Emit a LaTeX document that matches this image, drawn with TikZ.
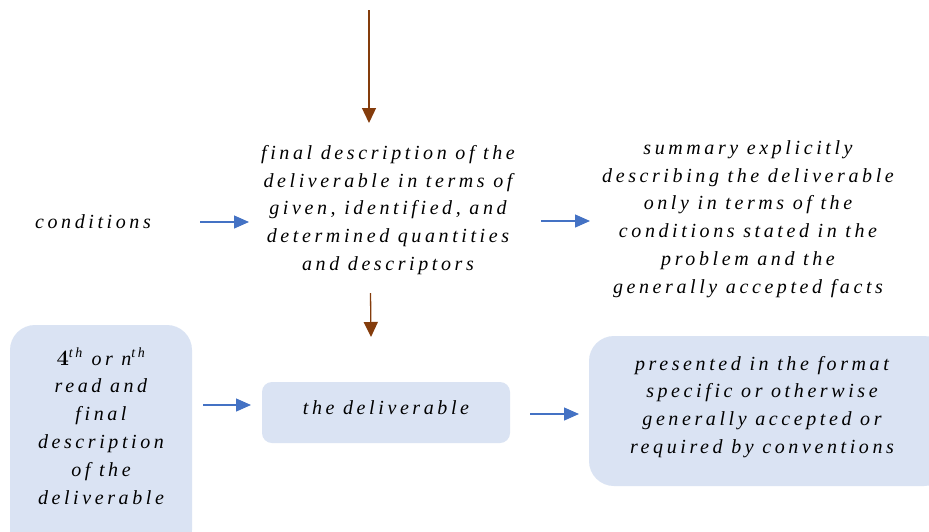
\documentclass[tikz,border=0pt]{standalone}
\usepackage{fontspec}
\usetikzlibrary{arrows.meta}
\newfontfamily\handfont[LetterSpace=18]{Liberation Serif}
\definecolor{boxfill}{HTML}{DAE3F3}
\definecolor{flowblue}{HTML}{4472C4}
\definecolor{flowbrown}{HTML}{843C0C}
\tikzset{
  hand/.style={align=center, inner sep=0pt,
    font={\handfont\fontsize{20}{27.8}\selectfont\itshape}},
  softbox/.style={fill=boxfill, draw=none, rounded corners=#1},
  bluearrow/.style={draw=flowblue, line width=1.2pt,
    -{Triangle[length=15pt,width=13pt]}},
  brownarrow/.style={draw=flowbrown, line width=1.3pt,
    -{Triangle[length=15pt,width=14pt]}}
}
\begin{document}
\begin{tikzpicture}[x=1pt, y={(0,-1pt)}]
  \useasboundingbox (0,0) rectangle (929,531);
  \clip (0,0) rectangle (929,531);
  \fill[white] (0,0) rectangle (929,531);

  % rounded panels
  \node[softbox=25pt, minimum width=182pt, minimum height=230pt] (leftbox) at (101,440) {};
  \node[softbox=10pt, minimum width=248pt, minimum height=61pt] (midbox) at (386,412.5) {};
  \node[softbox=25pt, minimum width=360pt, minimum height=150pt] (rightbox) at (769,411) {};

  % texts
  \node[hand] (cond) at (93,222) {conditions};
  \node[hand] (finaldesc) at (388,210) {final description of the\\deliverable in terms of\\given, identified, and\\determined quantities\\and descriptors};
  \node[hand] (summary) at (748,219) {summary explicitly\\describing the deliverable\\only in terms of the\\conditions stated in the\\problem and the\\generally accepted facts};
  \node[hand] (nread) at (101,426) {{\normalfont\fontsize{22}{27.8}\selectfont\bfseries 4}\textsuperscript{th} or n\textsuperscript{th}\\read and\\final\\description\\of the\\deliverable};
  \node[hand] (deliv) at (386,408) {the deliverable};
  \node[hand] (format) at (762,407) {presented in the format\\specific or otherwise\\generally accepted or\\required by conventions};

  % connector end points
  \coordinate (topstart) at (369,10);
  \coordinate (topend) at (369,123);
  \coordinate (downstart) at (370.5,293);
  \coordinate (downend) at (371,337);
  \coordinate (a1s) at (200,222);
  \coordinate (a1e) at (249,222);
  \coordinate (a2s) at (541,221);
  \coordinate (a2e) at (590,221);
  \coordinate (a3s) at (203,405);
  \coordinate (a3e) at (251,405);
  \coordinate (a4s) at (530,414);
  \coordinate (a4e) at (579,414);

  % connectors
  \draw[brownarrow] (topstart) -- (topend);
  \draw[brownarrow] (downstart) -- (downend);
  \draw[bluearrow] (a1s) -- (a1e);
  \draw[bluearrow] (a2s) -- (a2e);
  \draw[bluearrow] (a3s) -- (a3e);
  \draw[bluearrow] (a4s) -- (a4e);
\end{tikzpicture}
\end{document}
